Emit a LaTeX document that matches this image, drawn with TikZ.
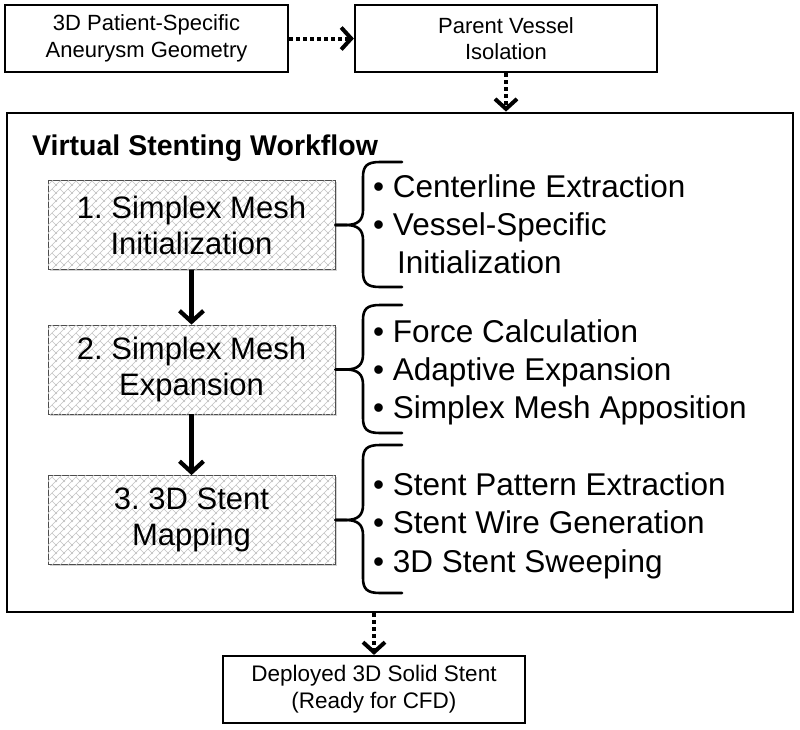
\documentclass[tikz,border=0pt]{standalone}
\usepackage{fontspec}
\setmainfont{Liberation Sans}
\usetikzlibrary{arrows.meta,patterns.meta,shadows,calc}
\frenchspacing

\tikzdeclarepattern{
  name=dbrick, type=uncolored,
  bounding box={(-1pt,-1pt) and (9pt,9pt)},
  tile size={(8pt,8pt)},
  code={\draw[line width=0.5pt] (-1pt,-1pt)--(9pt,9pt) (4pt,4pt)--(9pt,-1pt);}
}

\begin{document}
\begin{tikzpicture}[x=1pt,y=-1pt,
  topbox/.style={draw=black, line width=2.2pt, minimum height=67pt, inner sep=0pt,
    align=center, font=\fontsize{22}{26.5}\selectfont},
  stepbox/.style={draw=black!70, line width=0.8pt, fill=white,
    postaction={pattern={dbrick}, pattern color=black!24},
    minimum width=287pt, minimum height=89pt, inner sep=0pt,
    align=center, font=\fontsize{31}{36}\selectfont,
    drop shadow={shadow xshift=1.5pt, shadow yshift=-1.5pt, opacity=0.35}},
  itemtext/.style={anchor=base west, inner sep=0pt, font=\fontsize{31.5}{38}\selectfont},
  bracestyle/.style={line width=2.6pt, line cap=round, line join=round},
  dotarrow/.style={line width=4pt, dash pattern=on 4pt off 3pt,
    -{Straight Barb[length=10pt,width=22pt]}},
  solidarrow/.style={line width=4.2pt, -{Straight Barb[length=11pt,width=24pt]}}
]
\useasboundingbox (0,0) rectangle (800,729);

% top boxes
\node[topbox, minimum width=283pt] (geo) at (146.5,38.5) {3D Patient-Specific\\Aneurysm Geometry};
\node[topbox, minimum width=302pt] (iso) at (506,38.5) {Parent Vessel\\Isolation};

% workflow frame
\node[draw=black, line width=2.8pt, minimum width=786pt, minimum height=499pt, inner sep=0pt] (wf) at (400,362.5) {};
\node[anchor=base west, inner sep=0pt, font=\fontsize{28.5}{34}\selectfont\bfseries] (title) at (32,155) {Virtual Stenting Workflow};

% step boxes
\node[stepbox] (b1) at (191.5,225) {1. Simplex Mesh\\Initialization};
\node[stepbox] (b2) at (191.5,369.5) {2. Simplex Mesh\\Expansion};
\node[stepbox] (b3) at (191.5,520) {3. 3D Stent\\Mapping};

% bottom box
\node[topbox, minimum width=302pt, font=\fontsize{22.5}{27}\selectfont] (out) at (374,689.5) {Deployed 3D Solid Stent\\(Ready for CFD)};

% arrows
\draw[dotarrow] (geo.east) -- (iso.west);
\draw[dotarrow] (iso.south) -- (iso.south |- wf.north);
\draw[dotarrow] (out.north |- wf.south) -- (out.north);
\draw[solidarrow] (b1.south) -- (b2.north);
\draw[solidarrow] (b2.south) -- (b3.north);

% braces
\draw[bracestyle] (b1.east) -- (346,225) .. controls (358,225) and (363,220) .. (363,210) -- (363,177) .. controls (363,166) and (367,162) .. (380,162) -- (402,162);
\draw[bracestyle] (b1.east) -- (346,225) .. controls (358,225) and (363,230) .. (363,240) -- (363,272) .. controls (363,283) and (367,287) .. (380,287) -- (402,287);

\draw[bracestyle] (b2.east) -- (346,369.5) .. controls (358,369.5) and (363,364.5) .. (363,354.5) -- (363,320) .. controls (363,309) and (367,305) .. (380,305) -- (402,305);
\draw[bracestyle] (b2.east) -- (346,369.5) .. controls (358,369.5) and (363,374.5) .. (363,384.5) -- (363,418) .. controls (363,429) and (367,433) .. (380,433) -- (402,433);

\draw[bracestyle] (b3.east) -- (346,520) .. controls (358,520) and (363,515) .. (363,505) -- (363,460) .. controls (363,449) and (367,445) .. (380,445) -- (402,445);
\draw[bracestyle] (b3.east) -- (346,520) .. controls (358,520) and (363,525) .. (363,535) -- (363,578) .. controls (363,589) and (367,593) .. (380,593) -- (402,593);

% bullet items
\node[itemtext] (i11) at (373,197) {• Centerline Extraction};
\node[itemtext] (i12) at (373,235) {• Vessel-Specific};
\node[itemtext] (i13) at (397,273) {Initialization};

\node[itemtext] (i21) at (373,342) {• Force Calculation};
\node[itemtext] (i22) at (373,380) {• Adaptive Expansion};
\node[itemtext] (i23) at (373,418) {• Simplex Mesh Apposition};

\node[itemtext] (i31) at (373,495) {• Stent Pattern Extraction};
\node[itemtext] (i32) at (373,533) {• Stent Wire Generation};
\node[itemtext] (i33) at (373,572) {• 3D Stent Sweeping};
\end{tikzpicture}
\end{document}
